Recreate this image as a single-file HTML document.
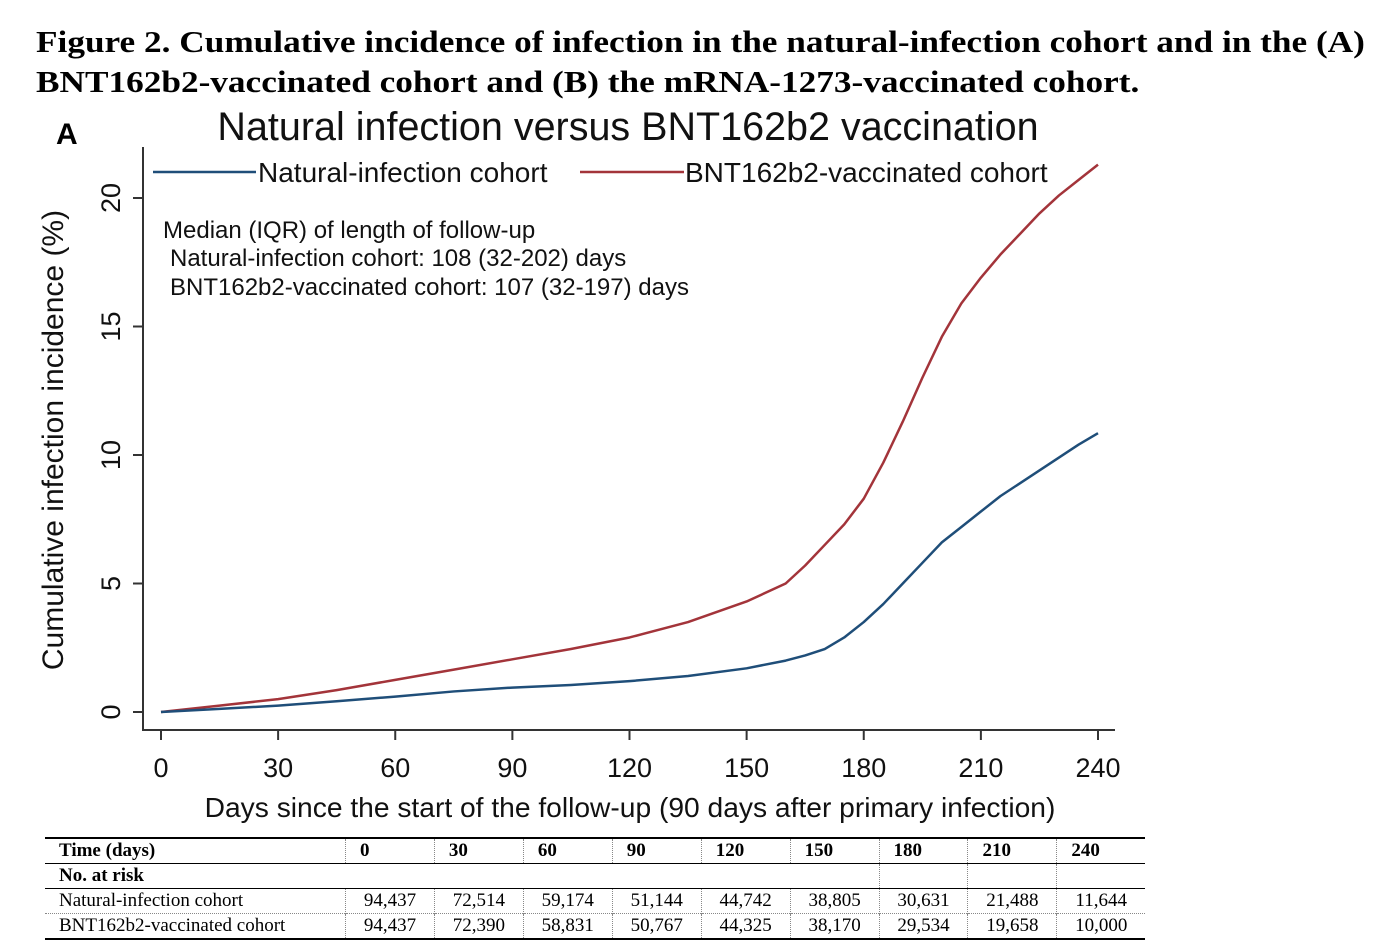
<!DOCTYPE html>
<html><head><meta charset="utf-8"><style>
body{margin:0;background:#fff;width:1398px;height:952px;overflow:hidden;position:relative;font-family:"Liberation Sans",sans-serif}
.cap{position:absolute;left:36px;top:22px;font-family:"Liberation Serif",serif;font-weight:bold;font-size:31px;line-height:40px;color:#000;transform:scaleX(1.137);transform-origin:left top;white-space:nowrap}
table{position:absolute;left:45px;top:837px;border-collapse:collapse;font-family:"Liberation Serif",serif;font-size:19px;width:1100px}
td{padding:0 0 0 14px;height:24px;line-height:24px;border-left:1px dotted #888}
td:first-child{border-left:none;width:286px}
tr.h td{font-weight:bold;border-top:2px solid #000;border-bottom:1px solid #000}
tr.r td{text-align:center;padding:0}
tr.r td:first-child{text-align:left;padding-left:14px}
tr.last td{border-bottom:2px solid #000;border-top:1px dotted #888}
</style></head><body>
<div class="cap">Figure 2. Cumulative incidence of infection in the natural-infection cohort and in the (A)<br>BNT162b2-vaccinated cohort and (B) the mRNA-1273-vaccinated cohort.</div>
<svg id="chart" width="1398" height="830" style="position:absolute;left:0;top:0" font-family="Liberation Sans, sans-serif">
<text x="56" y="144" font-size="30" font-weight="bold">A</text>
<text x="628" y="140" font-size="39.5" text-anchor="middle" fill="#111">Natural infection versus BNT162b2 vaccination</text>
<line x1="143" y1="147" x2="143" y2="731" stroke="#333" stroke-width="2"/>
<line x1="142" y1="730" x2="1115" y2="730" stroke="#333" stroke-width="2"/>
<g id="ticks"></g>
<text transform="translate(63,440) rotate(-90)" font-size="30" text-anchor="middle" fill="#111">Cumulative infection incidence (%)</text>
<text x="630" y="817" font-size="28.2" text-anchor="middle" fill="#111">Days since the start of the follow-up (90 days after primary infection)</text>
<g>
<line x1="153" y1="172" x2="256" y2="172" stroke="#1f4e79" stroke-width="2.5"/>
<text x="258" y="182" font-size="28" fill="#111">Natural-infection cohort</text>
<line x1="580" y1="172" x2="684" y2="172" stroke="#a3343a" stroke-width="2.5"/>
<text x="685" y="182" font-size="28" fill="#111">BNT162b2-vaccinated cohort</text>
</g>
<g font-size="24" fill="#111">
<text x="163" y="238">Median (IQR) of length of follow-up</text>
<text x="170" y="266">Natural-infection cohort: 108 (32-202) days</text>
<text x="170" y="295">BNT162b2-vaccinated cohort: 107 (32-197) days</text>
</g>
<g id="lines"></g>
</svg>
<table>
<tr class="h"><td>Time (days)</td><td>0</td><td>30</td><td>60</td><td>90</td><td>120</td><td>150</td><td>180</td><td>210</td><td>240</td></tr>
<tr><td style="font-weight:bold">No. at risk</td><td style="border-left:none"></td><td style="border-left:none"></td><td style="border-left:none"></td><td style="border-left:none"></td><td style="border-left:none"></td><td style="border-left:none"></td><td></td><td></td><td></td></tr>
<tr class="r" style="border-top:1px solid #000"><td>Natural-infection cohort</td><td>94,437</td><td>72,514</td><td>59,174</td><td>51,144</td><td>44,742</td><td>38,805</td><td>30,631</td><td>21,488</td><td>11,644</td></tr>
<tr class="r last"><td>BNT162b2-vaccinated cohort</td><td>94,437</td><td>72,390</td><td>58,831</td><td>50,767</td><td>44,325</td><td>38,170</td><td>29,534</td><td>19,658</td><td>10,000</td></tr>
</table>
<script>
const days=[0,15,30,45,60,75,90,105,120,135,150,160,165,170,175,180,185,190,195,200,205,210,215,220,225,230,235,240];
const natural=[0,0.12,0.25,0.42,0.6,0.8,0.95,1.05,1.2,1.4,1.7,2.0,2.2,2.45,2.9,3.5,4.2,5.0,5.8,6.6,7.2,7.8,8.4,8.9,9.4,9.9,10.4,10.85];
const bnt=[0,0.25,0.5,0.85,1.25,1.65,2.05,2.45,2.9,3.5,4.3,5.0,5.7,6.5,7.3,8.3,9.7,11.3,13.0,14.6,15.9,16.9,17.8,18.6,19.4,20.1,20.7,21.3];
const xTicks=[0,30,60,90,120,150,180,210,240];
const yTicks=[0,5,10,15,20];
const X=d=>161+d*(1098-161)/240, Y=v=>712-v*(712-198)/20;
const ns="http://www.w3.org/2000/svg";
const tg=document.getElementById('ticks');
xTicks.forEach(t=>{const l=document.createElementNS(ns,'line');l.setAttribute('x1',X(t));l.setAttribute('x2',X(t));l.setAttribute('y1',730);l.setAttribute('y2',740);l.setAttribute('stroke','#333');l.setAttribute('stroke-width',2);

tg.appendChild(l);
const tx=document.createElementNS(ns,'text');tx.setAttribute('x',X(t));tx.setAttribute('y',777);tx.setAttribute('font-size',27);tx.setAttribute('text-anchor','middle');tx.setAttribute('fill','#111');tx.textContent=t;

tg.appendChild(tx);});
yTicks.forEach(t=>{const l=document.createElementNS(ns,'line');l.setAttribute('x1',133);l.setAttribute('x2',143);l.setAttribute('y1',Y(t));l.setAttribute('y2',Y(t));l.setAttribute('stroke','#333');l.setAttribute('stroke-width',2);

tg.appendChild(l);
const tx=document.createElementNS(ns,'text');tx.setAttribute('transform','translate(120,'+Y(t)+') rotate(-90)');tx.setAttribute('font-size',27);tx.setAttribute('text-anchor','middle');tx.setAttribute('fill','#111');tx.textContent=t;

tg.appendChild(tx);});
const lg=document.getElementById('lines');
function line(vals,color,name){const p=document.createElementNS(ns,'path');
p.setAttribute('d',vals.map((v,i)=>(i?'L':'M')+X(days[i])+','+Y(v)).join(''));
p.setAttribute('fill','none');p.setAttribute('stroke',color);p.setAttribute('stroke-width',2.5);p.setAttribute('stroke-linejoin','round');

lg.appendChild(p);}
line(bnt,'#a3343a','bnt-line');
line(natural,'#1f4e79','natural-line');
</script>
</body></html>
